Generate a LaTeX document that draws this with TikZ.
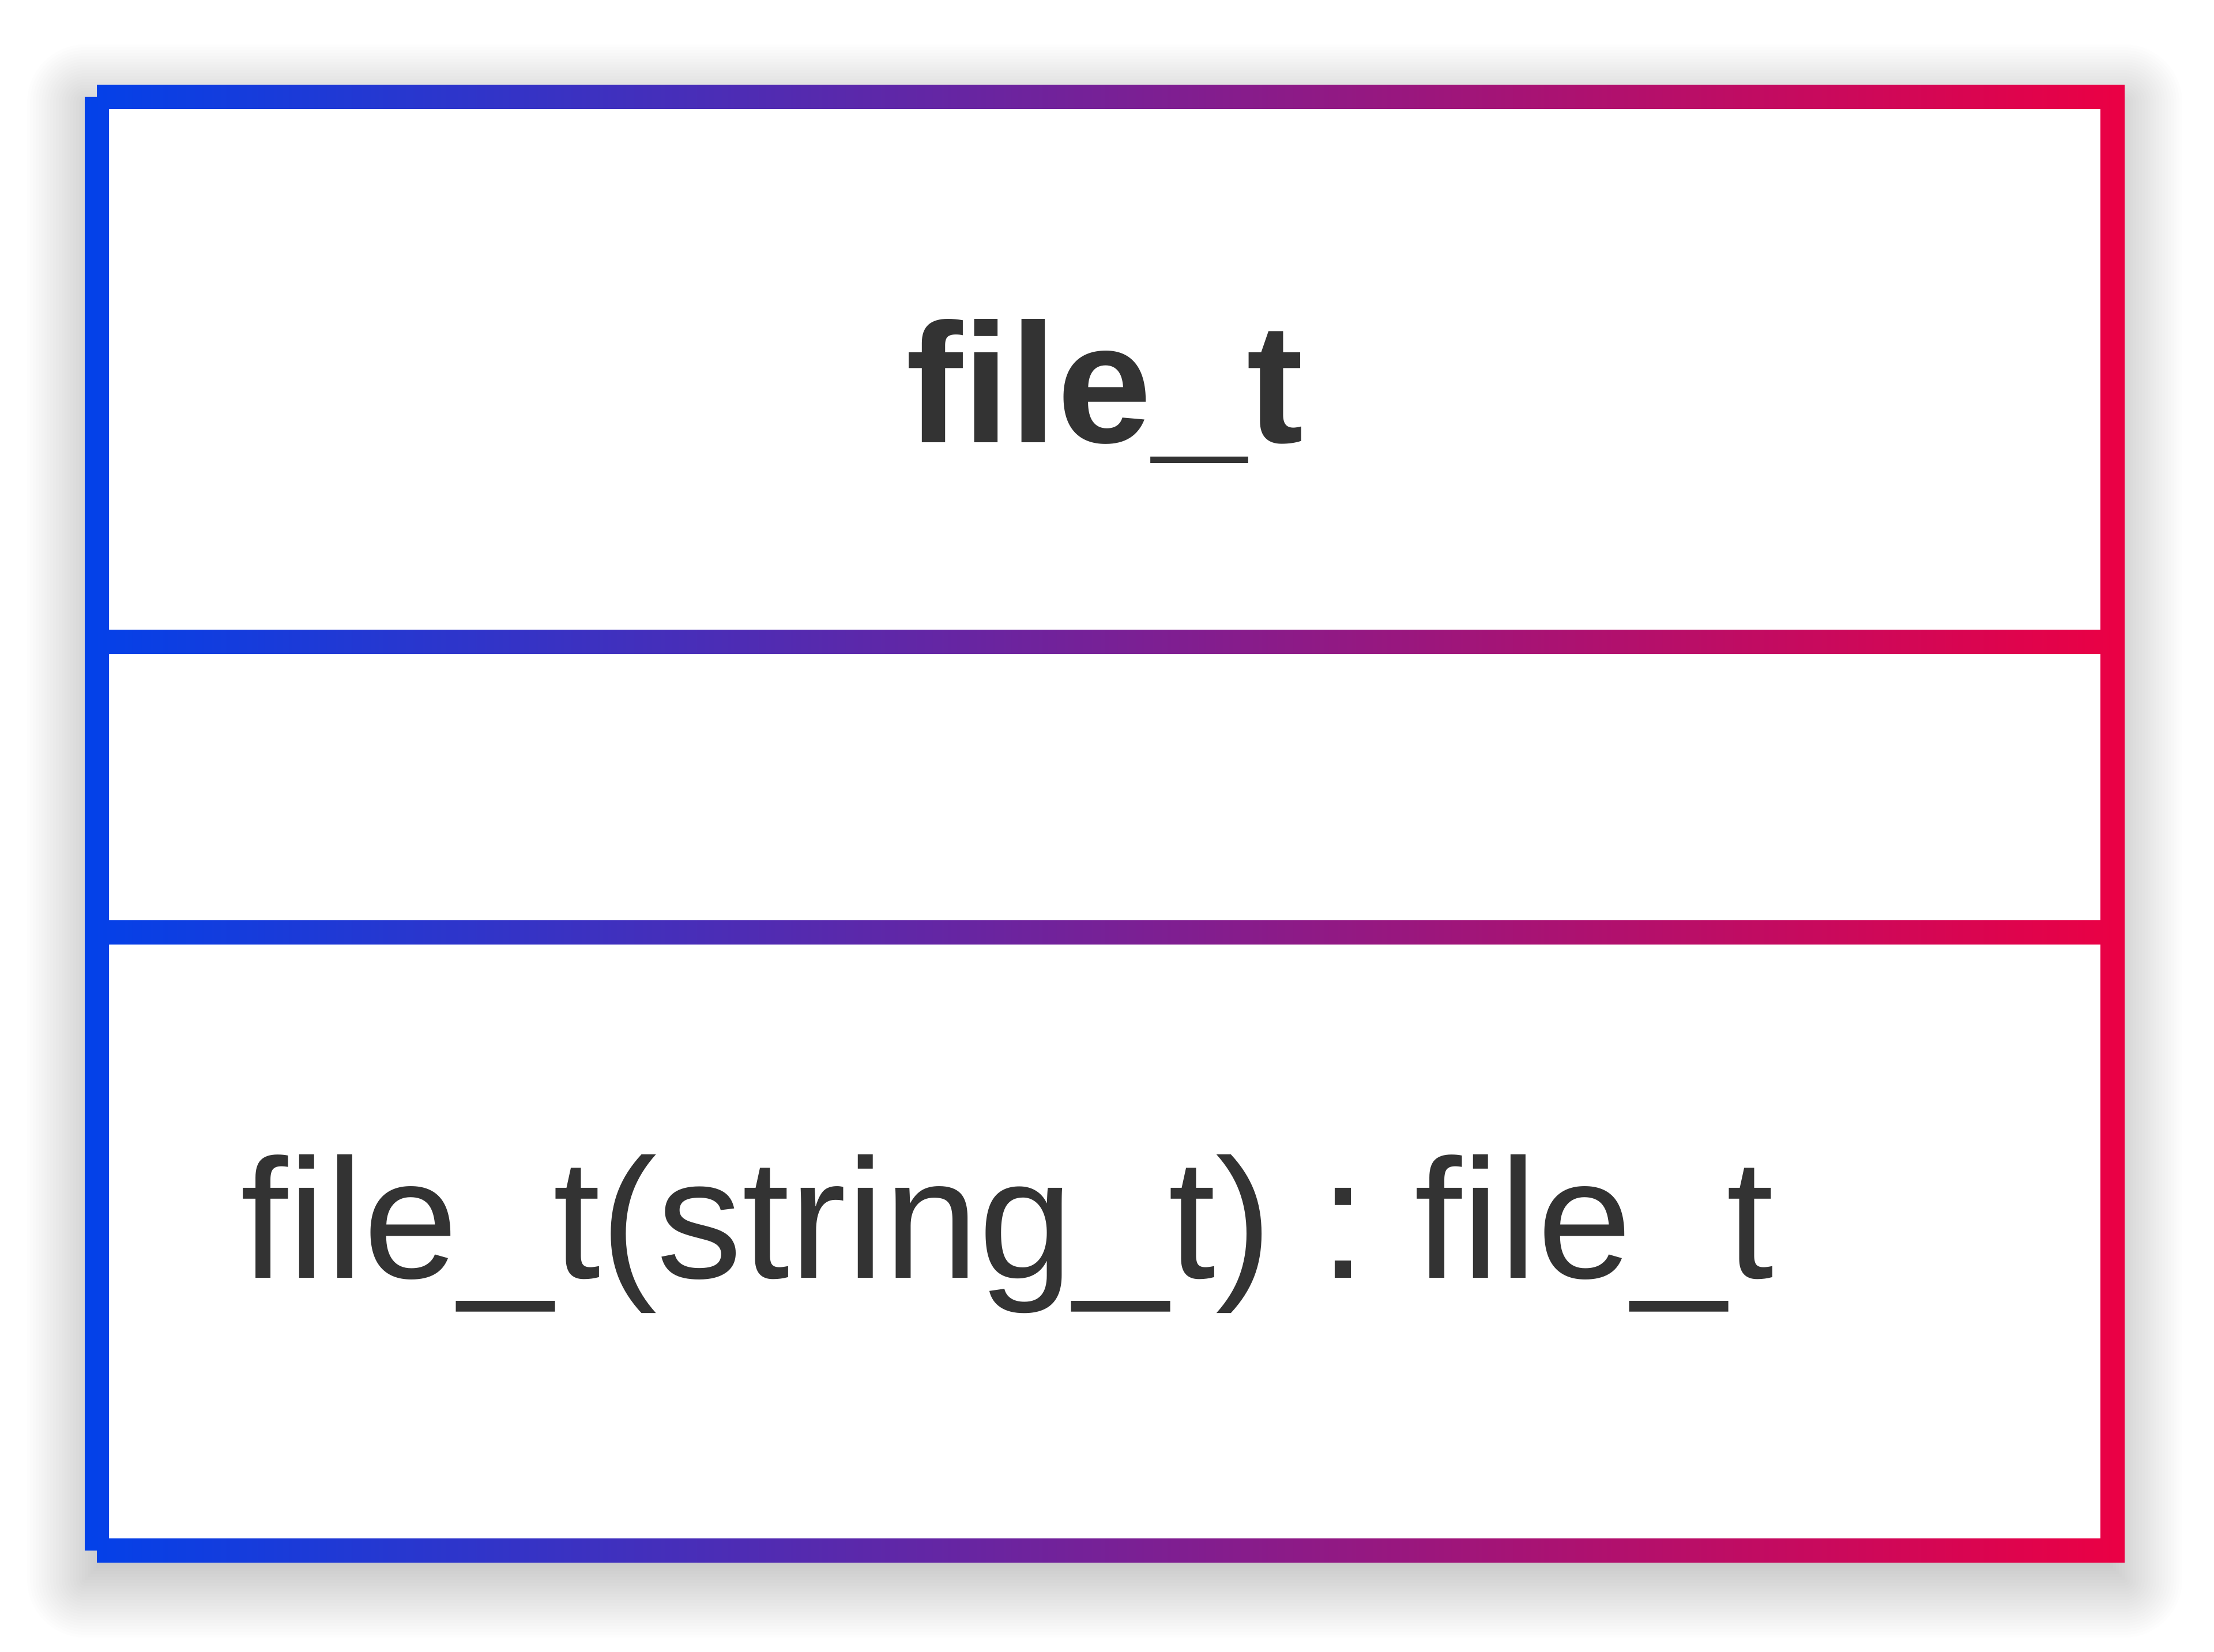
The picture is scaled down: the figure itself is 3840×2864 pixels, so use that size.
\documentclass[tikz,border=0pt]{standalone}
\usepackage{fontspec}
\setmainfont{Liberation Sans}
\frenchspacing
\definecolor{edgeblue}{RGB}{3,65,233}
\definecolor{edgered}{RGB}{235,0,68}
\definecolor{inkgray}{HTML}{333333}
\tikzset{
  shadowlayer/.style={fill=black, fill opacity=0.0064, draw=none},
  classname/.style={font=\fontsize{84pt}{100pt}\selectfont\bfseries, text=inkgray, inner sep=0pt, anchor=base},
  member/.style={font=\fontsize{84pt}{100pt}\selectfont, text=inkgray, inner sep=0pt, anchor=base west}
}
\begin{document}
\begin{tikzpicture}[x=0.01cm, y=-0.01cm]
  \useasboundingbox (0,0) rectangle (3840,2864);
  % soft drop shadow under the class box, shifted slightly down
  \foreach \r in {-30,-25,...,100} {
    \pgfmathsetmacro\rc{max(\r,0)+1}
    \fill[shadowlayer, rounded corners=\rc*0.01cm]
      ({147-\r},{177-\r}) rectangle ({3685+\r},{2740+\r});
  }
  % white body
  \fill[white] (168,168) rectangle (3664,2689);
  % frame and compartment separators, filled with one left-to-right gradient
  \begin{scope}
    \clip (168,147) rectangle (3685,189)
          (3643,147) rectangle (3685,2710)
          (168,2668) rectangle (3685,2710)
          (147,168) rectangle (189,2689)
          (189,1092) rectangle (3643,1134)
          (189,1596) rectangle (3643,1638);
    \shade[left color=edgeblue, right color=edgered] (147,147) rectangle (3685,2710);
  \end{scope}
  % class name and operation
  \node[classname] (name) at (1916,767) {file\_t};
  \node[member] (op) at (417,2216) {file\_t(string\_t) : file\_t};
\end{tikzpicture}
\end{document}
